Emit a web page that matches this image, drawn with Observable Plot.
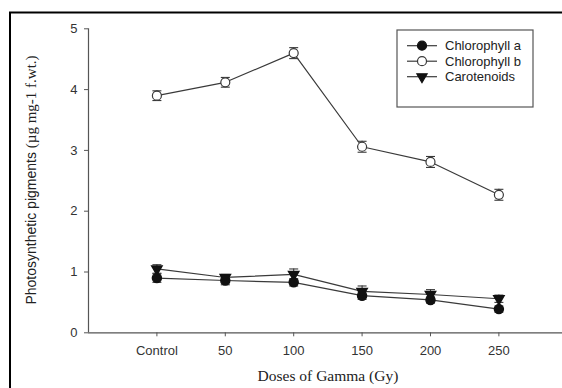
<!DOCTYPE html>
<html>
<head>
<meta charset="utf-8">
<script src="https://cdn.jsdelivr.net/npm/d3@7"></script>
<script src="https://cdn.jsdelivr.net/npm/@observablehq/plot@0.6"></script>
<style>
  html, body { margin: 0; padding: 0; background: white; }
</style>
</head>
<body>
<div id="chart"></div>
<script>
// ---- data ----
const doses = ["Control", "50", "100", "150", "200", "250"];
const chlA = [0.90, 0.86, 0.83, 0.61, 0.54, 0.39];
const chlAErr = [0.07, 0.07, 0.06, 0.06, 0.05, 0.05];
const chlB = [3.90, 4.12, 4.60, 3.06, 2.81, 2.27];
const chlBErr = [0.08, 0.08, 0.09, 0.09, 0.09, 0.09];
const car = [1.05, 0.91, 0.96, 0.68, 0.63, 0.56];
const carErr = [0.07, 0.05, 0.09, 0.09, 0.08, 0.06];
const yTicks = [0, 1, 2, 3, 4, 5];
const seriesNames = ["Chlorophyll a", "Chlorophyll b", "Carotenoids"];

const build = (name, vals, errs) => vals.map((v, i) => ({series: name, i, dose: doses[i], v, e: errs[i]}));
const rowsA = build(seriesNames[0], chlA, chlAErr);
const rowsB = build(seriesNames[1], chlB, chlBErr);
const rowsC = build(seriesNames[2], car, carErr);
const rows = [...rowsA, ...rowsB, ...rowsC];

const ink = "#3a3a3a";
const capSymbol = {
  draw(ctx, size) {
    const w = Math.sqrt(size / Math.PI);
    ctx.moveTo(-w, 0);
    ctx.lineTo(w, 0);
  }
};

const chart = Plot.plot({
  width: 562,
  height: 388,
  marginLeft: 88,
  marginRight: 0,
  marginTop: 28.3,
  marginBottom: 55.7,
  style: {fontFamily: "'Liberation Sans', Arial, sans-serif", fontSize: "13px", background: "white", overflow: "visible"},
  x: {domain: [-1, 5.93]},
  y: {domain: [0, 5]},
  marks: [
    Plot.ruleY([0], {stroke: "#555", strokeWidth: 1.2}),
    Plot.ruleX([-1], {stroke: "#555", strokeWidth: 1.2}),
    Plot.axisX({ticks: d3.range(doses.length), tickFormat: i => doses[i], tickSize: 4, tickPadding: 9, label: null, stroke: "#555", fill: "#333"}),
    Plot.axisY({ticks: yTicks, tickFormat: d3.format("d"), tickSize: 4, tickPadding: 7, label: null, stroke: "#555", fill: "#333"}),
    Plot.line(rows, {x: "i", y: "v", z: "series", stroke: ink, strokeWidth: 1.2}),
    Plot.ruleX(rows, {x: "i", y1: d => d.v - d.e, y2: d => d.v + d.e, stroke: ink, strokeWidth: 1.1}),
    Plot.dot(rows, {x: "i", y: d => d.v + d.e, symbol: capSymbol, r: 4.5, fill: "none", stroke: ink, strokeWidth: 1.1}),
    Plot.dot(rows, {x: "i", y: d => d.v - d.e, symbol: capSymbol, r: 4.5, fill: "none", stroke: ink, strokeWidth: 1.1}),
    Plot.dot(rowsB, {x: "i", y: "v", r: 4.5, fill: "white", stroke: ink, strokeWidth: 1.2}),
    Plot.dot(rowsA, {x: "i", y: "v", r: 4.5, fill: "#111", stroke: "#111"}),
    Plot.dot(rowsC, {x: "i", y: "v", symbol: "triangle", rotate: 180, r: 3.8, fill: "#111", stroke: "#111"})
  ]
});

document.getElementById("chart").appendChild(chart);
const svg = d3.select(chart);

// frame border
svg.append("rect")
  .attr("x", 10).attr("y", 12.5).attr("width", 600).attr("height", 420)
  .attr("fill", "none").attr("stroke", "#000").attr("stroke-width", 2);

// axis titles
svg.append("text")
  .attr("x", 328).attr("y", 381)
  .attr("text-anchor", "middle")
  .attr("font-family", "'Liberation Serif', 'Times New Roman', serif")
  .attr("font-size", 15.5).attr("fill", "#222")
  .text("Doses of Gamma (Gy)");

const yt = svg.append("text")
  .attr("transform", "translate(36,180) rotate(-90)")
  .attr("text-anchor", "middle").attr("fill", "#222");
yt.append("tspan")
  .attr("font-family", "'Liberation Sans', Arial, sans-serif").attr("font-size", 14)
  .text("Photosynthetic pigments ");
yt.append("tspan")
  .attr("font-family", "'Liberation Serif', 'Times New Roman', serif").attr("font-size", 15)
  .text("(µg mg-1 f.wt.)");

// legend
const lg = svg.append("g");
lg.append("rect").attr("x", 397).attr("y", 30).attr("width", 136).attr("height", 77)
  .attr("fill", "white").attr("stroke", "#555").attr("stroke-width", 1.2);
const legendSymbols = [
  {sym: d3.symbolCircle, r: 4.5, fill: "#111", stroke: "#111", rot: 0},
  {sym: d3.symbolCircle, r: 4.5, fill: "white", stroke: ink, rot: 0},
  {sym: d3.symbolTriangle, r: 3.8, fill: "#111", stroke: "#111", rot: 180}
];
seriesNames.forEach((name, k) => {
  const cy = 45.7 + k * 15.5;
  lg.append("line").attr("x1", 407).attr("x2", 437).attr("y1", cy).attr("y2", cy)
    .attr("stroke", ink).attr("stroke-width", 1.2);
  const s = legendSymbols[k];
  lg.append("path")
    .attr("d", d3.symbol(s.sym, Math.PI * s.r * s.r)())
    .attr("transform", `translate(422,${cy}) rotate(${s.rot})`)
    .attr("fill", s.fill).attr("stroke", s.stroke).attr("stroke-width", 1.2);
  lg.append("text").attr("x", 445).attr("y", cy).attr("dy", "0.35em")
    .attr("text-anchor", "start")
    .attr("font-size", 13).attr("fill", "#222")
    .attr("font-family", "'Liberation Sans', Arial, sans-serif")
    .text(name);
});
</script>
</body>
</html>
